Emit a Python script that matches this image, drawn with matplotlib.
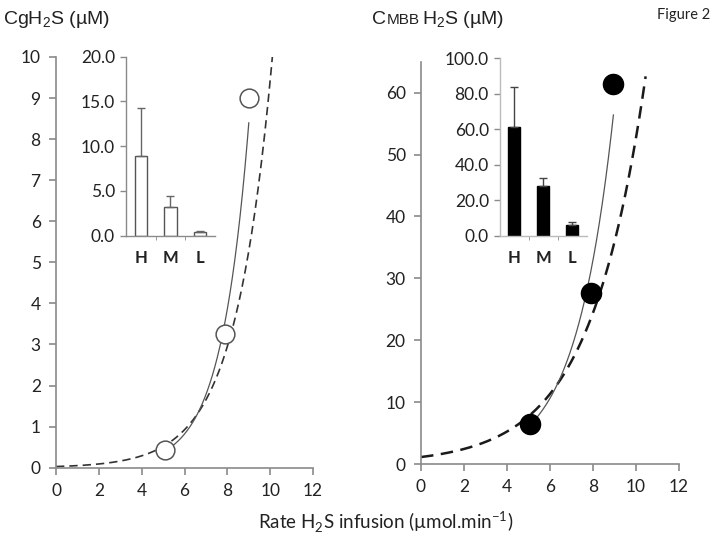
import numpy as np
import matplotlib
matplotlib.use("Agg")
import matplotlib.pyplot as plt

# ---------------- DATA ---------------- #
# main panels: measured points (rate of infusion vs concentration)
rate_cg = [5.1, 7.9, 9.0]
conc_cg = [0.42, 3.25, 9.0]
rate_mbb = [5.05, 7.9, 8.95]
conc_mbb = [6.4, 27.7, 61.4]

# dashed model curves
dash_x_cg = [0, 2, 4, 6, 8, 10.1]
dash_y_cg = [0.03, 0.09, 0.25, 1.0, 3.0, 10.0]
dash_x_mbb = [0, 2, 4, 6, 8, 10.45]
dash_y_mbb = [1.2, 2.4, 4.6, 11.9, 24.8, 63.3]

# inset bar charts
groups = ["H", "M", "L"]
cg_mean = [8.9, 3.25, 0.45]
cg_err = [5.4, 1.2, 0.1]
mbb_mean = [61.5, 28.1, 6.4]
mbb_err = [22.4, 4.4, 1.3]

AXC = "#8a8a8a"
TXT = "#222222"
TICKFONT = "Lato"


def exp_fit(x, y):
    b, lna = np.polyfit(x, np.log(y), 1)
    return np.exp(lna), b


def style_main(ax, ymax, ystep):
    for s in ["top", "right"]:
        ax.spines[s].set_visible(False)
    for s in ["left", "bottom"]:
        ax.spines[s].set_color(AXC)
        ax.spines[s].set_linewidth(1.2)
    ax.set_xlim(0, 12)
    ax.set_ylim(0, ymax)
    ax.set_xticks(range(0, 13, 2))
    ax.set_yticks(np.arange(0, ymax + 0.01, ystep))
    ax.tick_params(axis="both", color=AXC, width=1.2, length=5,
                   labelsize=12.5, labelcolor=TXT, pad=6)
    for lab in ax.get_xticklabels() + ax.get_yticklabels():
        lab.set_family(TICKFONT)


def style_inset(ax, ymax, ystep):
    for s in ["top", "right"]:
        ax.spines[s].set_visible(False)
    for s in ["left", "bottom"]:
        ax.spines[s].set_color(AXC)
        ax.spines[s].set_linewidth(1.0)
    ax.set_xlim(0, 3)
    ax.set_ylim(0, ymax)
    ax.set_yticks(np.arange(0, ymax + 0.01, ystep))
    ax.set_yticklabels(["%.1f" % v for v in np.arange(0, ymax + 0.01, ystep)])
    ax.set_xticks([0.5, 1.5, 2.5])
    ax.set_xticklabels(groups, fontweight="bold")
    ax.set_xticks([1, 2], minor=True)
    ax.tick_params(axis="x", which="major", length=0, pad=10,
                   labelsize=12, labelcolor=TXT)
    ax.tick_params(axis="x", which="minor", length=3, color=AXC)
    ax.tick_params(axis="y", color=AXC, length=4, width=1.0,
                   labelsize=12.5, labelcolor=TXT, pad=4)
    for lab in ax.get_xticklabels() + ax.get_yticklabels():
        lab.set_family(TICKFONT)
    ax.patch.set_alpha(0)


fig = plt.figure(figsize=(7.2, 5.35), dpi=100)

# ---------------- LEFT PANEL ---------------- #
ax1 = fig.add_axes([0.0778, 0.1258, 0.357, 0.7677])
style_main(ax1, 10, 1)
a, b = exp_fit(dash_x_cg, dash_y_cg)
xs = np.linspace(0, max(dash_x_cg), 200)
ax1.plot(xs, a * np.exp(b * xs), color="#333333", lw=1.2, ls=(0, (5, 3)))
a, b = exp_fit(rate_cg, conc_cg)
xs = np.linspace(min(rate_cg), max(rate_cg), 200)
ax1.plot(xs, a * np.exp(b * xs), color="#555555", lw=0.9)
ax1.plot(rate_cg, conc_cg, "o", ms=13.5, mfc="white", mec="#555555", mew=1.1,
         zorder=5)

in1 = fig.add_axes([0.175, 0.5594, 0.1236, 0.3346])
style_inset(in1, 20, 5)
in1.bar([0.5, 1.5, 2.5], cg_mean, width=0.42, color="white",
        edgecolor="#555555", linewidth=1.0)
in1.errorbar([0.5, 1.5, 2.5], cg_mean, yerr=[[0, 0, 0], cg_err], fmt="none",
             ecolor="#666666", elinewidth=1.0, capsize=3, capthick=1.0)

# ---------------- RIGHT PANEL ---------------- #
ax2 = fig.add_axes([0.5847, 0.1327, 0.3583, 0.752])
style_main(ax2, 65, 10)
a, b = exp_fit(dash_x_mbb, dash_y_mbb)
xs = np.linspace(0, max(dash_x_mbb), 200)
ax2.plot(xs, a * np.exp(b * xs), color="#1a1a1a", lw=1.8, ls=(0, (5, 3)))
a, b = exp_fit(rate_mbb, conc_mbb)
xs = np.linspace(min(rate_mbb), max(rate_mbb), 200)
ax2.plot(xs, a * np.exp(b * xs), color="#555555", lw=0.9)
ax2.plot(rate_mbb, conc_mbb, "o", ms=14.5, mfc="black", mec="black", zorder=5)

in2 = fig.add_axes([0.6944, 0.5589, 0.1204, 0.3321])
style_inset(in2, 100, 20)
in2.spines["left"].set_color("#bbbbbb")
in2.spines["bottom"].set_color("#bbbbbb")
in2.bar([0.5, 1.5, 2.5], mbb_mean, width=0.42, color="black",
        edgecolor="black")
in2.errorbar([0.5, 1.5, 2.5], mbb_mean, yerr=[[0, 0, 0], mbb_err], fmt="none",
             ecolor="#444444", elinewidth=1.0, capsize=3, capthick=1.0)

# ---------------- TEXTS ---------------- #
fig.text(0.004, 0.955, r"CgH$_\mathregular{2}$S (µM)", fontsize=14,
         family="Liberation Sans", color=TXT, va="baseline")
fig.text(0.516, 0.955, "C", fontsize=14, family="Liberation Sans",
         color=TXT, va="baseline")
fig.text(0.5375, 0.955, "MBB", fontsize=11, family="Liberation Sans",
         color=TXT, va="baseline")
fig.text(0.586, 0.955, r"H$_\mathregular{2}$S (µM)", fontsize=14,
         family="Liberation Sans", color=TXT, va="baseline")
fig.text(0.913, 0.965, "Figure 2", fontsize=10.5, family=TICKFONT,
         color=TXT, va="baseline")
fig.text(0.358, 0.01, r"Rate H$_\mathregular{2}$S infusion (µmol.min$^\mathregular{-1}$)",
         fontsize=13.5, family=TICKFONT, color=TXT)

fig.savefig("out.png", dpi=100)
